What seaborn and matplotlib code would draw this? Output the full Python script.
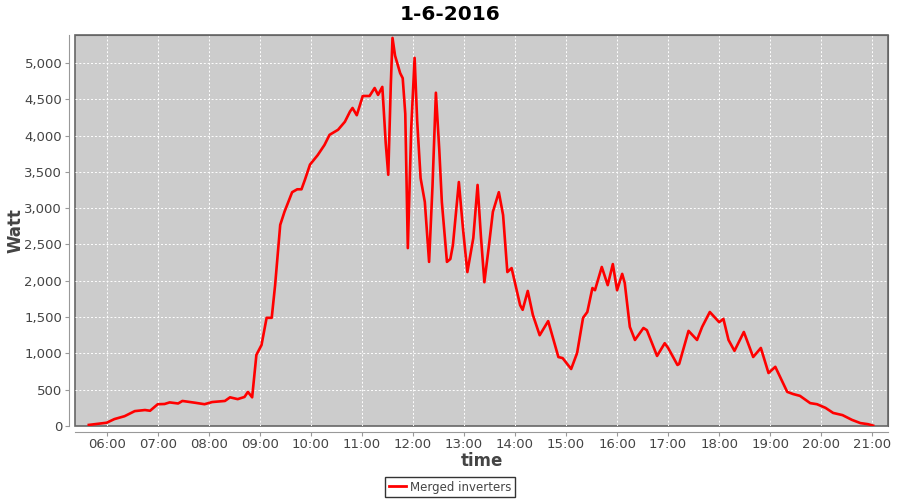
import seaborn as sns
import matplotlib.pyplot as plt
import matplotlib.dates as mdates
import pandas as pd

# readings of the merged inverters on 1-6-2016 (time, watt)
times = [
    "05:39", "06:00", "06:09", "06:21", "06:33", "06:45", "06:51", "07:00", "07:08", "07:14",
    "07:24", "07:29", "07:44", "07:55", "08:04", "08:19", "08:25", "08:34", "08:42", "08:46",
    "08:51", "08:56", "09:02", "09:08", "09:14", "09:18", "09:24", "09:29", "09:38", "09:44",
    "09:49", "09:53", "09:59", "10:08", "10:16", "10:22", "10:32", "10:40", "10:46", "10:49",
    "10:54", "11:01", "11:09", "11:15", "11:19", "11:24", "11:25", "11:28", "11:31", "11:34",
    "11:36", "11:39", "11:45", "11:48", "11:51", "11:54", "11:58", "12:02", "12:05", "12:09",
    "12:14", "12:19", "12:23", "12:27", "12:31", "12:34", "12:40", "12:44", "12:47", "12:54",
    "12:59", "13:04", "13:11", "13:16", "13:20", "13:24", "13:29", "13:34", "13:41", "13:46",
    "13:51", "13:56", "14:02", "14:06", "14:09", "14:15", "14:21", "14:29", "14:39", "14:51",
    "14:56", "15:06", "15:13", "15:20", "15:25", "15:31", "15:34", "15:42", "15:49", "15:55",
    "16:00", "16:06", "16:09", "16:15", "16:21", "16:31", "16:35", "16:47", "16:56", "17:00",
    "17:11", "17:13", "17:24", "17:34", "17:40", "17:49", "18:00", "18:05", "18:11", "18:18",
    "18:29", "18:40", "18:49", "18:58", "19:06", "19:20", "19:27", "19:35", "19:47", "19:55",
    "20:05", "20:14", "20:25", "20:36", "20:46", "20:55", "21:01",
]
watt = [
    15, 45, 95, 135, 205, 220, 210, 300, 303, 325,
    310, 345, 320, 300, 330, 345, 395, 370, 400, 470,
    395, 980, 1115, 1490, 1490, 1940, 2770, 2950, 3220, 3260,
    3260, 3390, 3600, 3730, 3870, 4010, 4080, 4190, 4330, 4380,
    4280, 4545, 4545, 4655, 4560, 4670, 4490, 3900, 3460, 4700,
    5345, 5100, 4860, 4790, 4300, 2450, 4100, 5070, 4200, 3415,
    3085, 2260, 3300, 4590, 3800, 3085, 2260, 2300, 2490, 3360,
    2700, 2120, 2590, 3320, 2600, 1980, 2450, 2950, 3220, 2905,
    2120, 2175, 1870, 1665, 1600, 1860, 1530, 1250, 1445, 950,
    935, 785, 1005, 1490, 1570, 1900, 1870, 2190, 1940, 2230,
    1870, 2095, 1970, 1365, 1185, 1350, 1320, 965, 1140, 1075,
    840, 855, 1310, 1185, 1365, 1570, 1430, 1475, 1185, 1035,
    1295, 950, 1075, 730, 815, 470, 440, 415, 315, 300,
    250, 180, 150, 85, 40, 25, 5,
]

df = pd.DataFrame({
    "time": pd.to_datetime(["2016-06-01 " + t for t in times]),
    "Watt": watt,
    "series": "Merged inverters",
})

fig = plt.figure(figsize=(9, 5), dpi=100)
ax = fig.add_axes([0.083, 0.148, 0.904, 0.782])

sns.lineplot(data=df, x="time", y="Watt", hue="series", palette=["#ff0000"],
             linewidth=1.9, ax=ax, legend=False)
for ln in ax.lines:
    ln.set_solid_joinstyle("round")

ax.set_facecolor("#cccccc")
ax.set_ylim(0, 5385)
ax.set_xlim(pd.Timestamp("2016-06-01 05:22:24"), pd.Timestamp("2016-06-01 21:18:50"))
ax.xaxis.set_major_locator(mdates.HourLocator())
ax.xaxis.set_major_formatter(mdates.DateFormatter("%H:%M"))
ax.set_yticks(range(0, 5001, 500))
ax.yaxis.set_major_formatter(plt.FuncFormatter(lambda v, p: f"{int(v):,}"))
ax.grid(True, color="white", linestyle=(0, (2, 2)), linewidth=0.7)
ax.set_axisbelow(True)

# jfreechart-like frame: dark outline, axis lines set a bit apart
for s in ["top", "right"]:
    ax.spines[s].set_color("#666666")
for s in ["left", "bottom"]:
    ax.spines[s].set_position(("outward", 4))
    ax.spines[s].set_color("#999999")
ax.patch.set_edgecolor("#666666")
ax.patch.set_linewidth(1.2)
ax.tick_params(colors="#999999", labelcolor="#444444", labelsize=9.5, length=3, pad=2)

ax.set_xlabel("time", fontsize=12, fontweight="bold", color="#444444")
ax.set_ylabel("Watt", fontsize=12, fontweight="bold", color="#444444")
ax.xaxis.set_label_coords(0.5, -0.066)
ax.yaxis.set_label_coords(-0.062, 0.5)
fig.suptitle("1-6-2016", fontsize=14.5, fontweight="bold", y=0.99)

handle = plt.Line2D([], [], color="#ff0000", linewidth=2)
leg = fig.legend([handle], ["Merged inverters"], loc="lower center",
                 bbox_to_anchor=(0.5, -0.006), fontsize=8.5, frameon=True, fancybox=False,
                 handlelength=1.5, borderpad=0.3, handletextpad=0.3)
leg.get_frame().set_edgecolor("black")
leg.get_frame().set_linewidth(1)
for t in leg.get_texts():
    t.set_color("#444444")

plt.savefig("out.png", dpi=100)
